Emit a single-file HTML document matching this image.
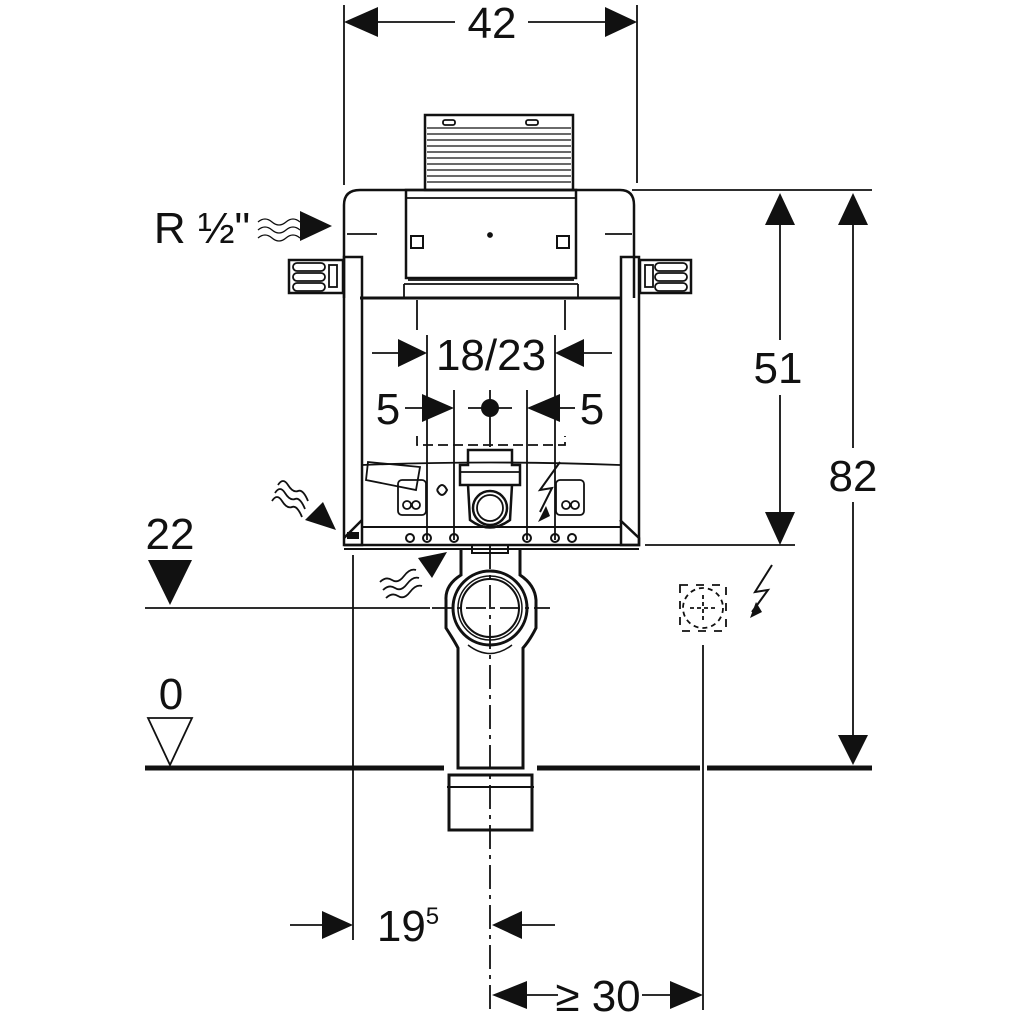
<!DOCTYPE html>
<html><head><meta charset="utf-8"><style>
html,body{margin:0;padding:0;background:#fff;}
svg{display:block;}
text{font-family:"Liberation Sans",sans-serif;fill:#111;font-weight:300;}
</style></head><body>
<svg width="1024" height="1024" viewBox="0 0 1024 1024" xmlns="http://www.w3.org/2000/svg">
<g stroke="#111" fill="none" stroke-width="1.8">
<line x1="344" y1="5" x2="344" y2="185"/>
<line x1="637" y1="5" x2="637" y2="183"/>
<line x1="378" y1="22" x2="455" y2="22"/>
<line x1="528" y1="22" x2="605" y2="22"/>
<path d="M425 115 L573 115 L573 190 L425 190 Z" stroke-width="2.5"/>
<g stroke-width="1.2">
<line x1="427" y1="128" x2="571" y2="128"/><line x1="427" y1="134" x2="571" y2="134"/><line x1="427" y1="140" x2="571" y2="140"/>
<line x1="427" y1="146" x2="571" y2="146"/><line x1="427" y1="152" x2="571" y2="152"/><line x1="427" y1="158" x2="571" y2="158"/>
<line x1="427" y1="164" x2="571" y2="164"/><line x1="427" y1="170" x2="571" y2="170"/><line x1="427" y1="176" x2="571" y2="176"/>
<line x1="427" y1="182" x2="571" y2="182"/>
</g>
<rect x="443" y="120" width="12" height="5" rx="2"/><rect x="526" y="120" width="12" height="5" rx="2"/>
<path d="M344 298 L344 205 Q344 190 360 190 L620 190 Q634 190 634 205 L634 298" stroke-width="2.5"/>
<rect x="406" y="190" width="170" height="88" stroke-width="2.5"/>
<line x1="406" y1="198" x2="576" y2="198"/>
<line x1="408" y1="280" x2="574" y2="280"/>
<line x1="404" y1="284" x2="578" y2="284"/>
<line x1="404" y1="284" x2="404" y2="298"/><line x1="578" y1="284" x2="578" y2="298"/>
<rect x="411" y="236" width="12" height="12" stroke-width="2"/>
<rect x="557" y="236" width="12" height="12" stroke-width="2"/>
<circle cx="490" cy="235" r="2" fill="#111"/>
<line x1="347" y1="234" x2="377" y2="234"/><line x1="605" y1="234" x2="632" y2="234"/>
<line x1="360" y1="298" x2="620" y2="298" stroke-width="3"/>
<rect x="344" y="257" width="18" height="288" stroke-width="2.5"/>
<rect x="621" y="257" width="18" height="288" stroke-width="2.5"/>
<path d="M344 545 L639 545 L639 538 L620 520 M362 520 L344 538" stroke-width="2.5"/>
<line x1="362" y1="527" x2="620" y2="527" stroke-width="2"/>
<line x1="344" y1="549" x2="639" y2="549" stroke-width="2"/>
<rect x="289" y="260" width="54" height="33" stroke-width="2.5"/>
<rect x="293" y="263" width="32" height="8" rx="4"/><rect x="293" y="273" width="32" height="8" rx="4"/><rect x="293" y="283" width="32" height="8" rx="4"/>
<rect x="329" y="265" width="8" height="22"/>
<rect x="640" y="260" width="51" height="33" stroke-width="2.5"/>
<rect x="655" y="263" width="32" height="8" rx="4"/><rect x="655" y="273" width="32" height="8" rx="4"/><rect x="655" y="283" width="32" height="8" rx="4"/>
<rect x="645" y="265" width="8" height="22"/>
<line x1="417" y1="300" x2="417" y2="330"/><line x1="565" y1="300" x2="565" y2="330"/>
<line x1="372" y1="353" x2="398" y2="353"/><line x1="584" y1="353" x2="612" y2="353"/>
<line x1="427" y1="335" x2="427" y2="540"/><line x1="555" y1="335" x2="555" y2="540"/>
<line x1="454" y1="390" x2="454" y2="540"/><line x1="527" y1="390" x2="527" y2="540"/>
<line x1="405" y1="408" x2="422" y2="408"/><line x1="560" y1="408" x2="575" y2="408"/>
<line x1="468" y1="408" x2="512" y2="408"/><line x1="490" y1="390" x2="490" y2="447"/>
<path d="M417 436 L417 445 L565 445 L565 436" stroke-dasharray="10 5"/>
<path d="M362 465 Q490 460 620 465"/>
<path d="M368 462 L420 467 L416 490 L366 480 Z"/>
<rect x="398" y="480" width="28" height="35" rx="4"/><rect x="556" y="480" width="28" height="35" rx="4"/>
<circle cx="407" cy="505" r="4"/><circle cx="416" cy="505" r="4"/><circle cx="566" cy="505" r="4"/><circle cx="575" cy="505" r="4"/>
<g stroke-width="2"><circle cx="410" cy="538" r="4"/><circle cx="427" cy="538" r="4"/><circle cx="454" cy="538" r="4"/><circle cx="527" cy="538" r="4"/><circle cx="555" cy="538" r="4"/><circle cx="572" cy="538" r="4"/></g>
<path d="M460 485 L460 465 L468 465 L468 450 L512 450 L512 465 L520 465 L520 485 Z" stroke-width="2.5"/>
<line x1="460" y1="472" x2="520" y2="472"/>
<path d="M468 485 L470 520 Q490 535 510 520 L512 485" stroke-width="2.5"/>
<circle cx="490" cy="508" r="17" stroke-width="2.5"/><circle cx="490" cy="508" r="13"/>
<path d="M437 490 q5 -10 10 0 q-5 10 -10 0" stroke-width="2"/>
<path d="M461 548 L461 575 Q445 585 446 600 L446 628 Q455 642 458 648 L458 768 L523 768 L523 648 Q530 640 536 628 L536 600 Q535 585 520 575 L520 548" stroke-width="3"/>
<rect x="472" y="545" width="36" height="8" stroke-width="2"/>
<circle cx="490" cy="608" r="37" stroke-width="3"/>
<circle cx="490" cy="608" r="32" stroke-width="1.5"/>
<circle cx="490" cy="608" r="29" stroke-width="2"/>
<path d="M468 645 Q490 662 512 645" stroke-width="1.5"/>
<path d="M449 775 L532 775 L532 830 L449 830 Z" stroke-width="3"/>
<line x1="447" y1="787" x2="534" y2="787" stroke-width="2"/>
<line x1="490" y1="545" x2="490" y2="1010" stroke-dasharray="24 6 4 6"/>
<line x1="145" y1="608" x2="430" y2="608"/>
<line x1="432" y1="608" x2="550" y2="608" stroke-dasharray="20 5 4 5"/>
<path d="M145 768 L444 768 M537 768 L700 768 M707 768 L872 768" stroke-width="5"/>
<path d="M148 718 L192 718 L170 765 Z"/>
<line x1="353" y1="555" x2="353" y2="940"/>
<line x1="290" y1="925" x2="322" y2="925"/><line x1="522" y1="925" x2="555" y2="925"/>
<line x1="527" y1="995" x2="558" y2="995"/><line x1="642" y1="995" x2="670" y2="995"/>
<line x1="703" y1="645" x2="703" y2="1010"/>
<circle cx="703" cy="608" r="20" stroke-dasharray="5 4"/>
<rect x="680" y="585" width="46" height="46" stroke-dasharray="8 8"/>
<line x1="690" y1="608" x2="716" y2="608" stroke-dasharray="4 3"/><line x1="703" y1="595" x2="703" y2="621" stroke-dasharray="4 3"/>
<line x1="632" y1="190" x2="872" y2="190"/>
<line x1="645" y1="545" x2="795" y2="545"/>
<line x1="780" y1="225" x2="780" y2="340"/><line x1="780" y1="395" x2="780" y2="512"/>
<line x1="853" y1="225" x2="853" y2="448"/><line x1="853" y1="502" x2="853" y2="735"/>
<path d="M258 222 q7 -6 14 0 t14 0 t14 0 M258 230 q7 -6 14 0 t14 0 t14 0 M258 238 q7 -6 14 0 t14 0 t14 0" stroke-width="1.3"/>
<path d="M278 485 q5 -8 10 0 t10 6 t10 10 M275 493 q5 -8 10 0 t10 6 t10 10 M272 501 q5 -8 10 0 t10 6 t10 10"/>
<path d="M383 590 q6 -6 12 -2 t12 -4 t12 -6 M380 582 q6 -6 12 -2 t12 -4 t12 -6 M386 598 q6 -6 12 -2 t12 -4 t12 -6"/>
<path d="M560 462 L540 490 L552 488 L540 512" stroke-width="2"/>
<path d="M772 565 L755 592 L768 590 L752 612" stroke-width="2"/>
</g>
<g fill="#111">
<path d="M344 22 L378 7 L378 37 Z"/>
<path d="M637 22 L605 7 L605 37 Z"/>
<path d="M427 353 L398 339 L398 367 Z"/>
<path d="M555 353 L584 339 L584 367 Z"/>
<path d="M454 408 L422 394 L422 422 Z"/>
<path d="M527 408 L560 394 L560 422 Z"/>
<circle cx="490" cy="408" r="9"/>
<path d="M148 560 L192 560 L170 605 Z"/>
<path d="M332 226 L300 211 L300 241 Z"/>
<path d="M336 530 L323 502 L305 520 Z"/>
<path d="M447 552 L418 558 L432 578 Z"/>
<path d="M353 925 L322 911 L322 939 Z"/>
<path d="M492 925 L522 911 L522 939 Z"/>
<path d="M492 995 L527 981 L527 1009 Z"/>
<path d="M703 995 L670 981 L670 1009 Z"/>
<path d="M780 193 L765 225 L795 225 Z"/>
<path d="M780 545 L765 512 L795 512 Z"/>
<path d="M853 193 L838 225 L868 225 Z"/>
<path d="M853 765 L838 735 L868 735 Z"/>
<path d="M538 522 L546 506 L550 516 Z"/>
<path d="M750 618 L756 602 L762 612 Z"/>
<rect x="347" y="532" width="12" height="7"/>
</g>
<g font-size="44" text-anchor="middle">
<text x="492" y="38">42</text>
<text x="491" y="370">18/23</text>
<text x="388" y="424">5</text>
<text x="592" y="424">5</text>
<text x="170" y="549">22</text>
<text x="171" y="709">0</text>
<text x="778" y="383">51</text>
<text x="853" y="491">82</text>
<text x="408" y="941">19<tspan font-size="24" dy="-17">5</tspan></text>
<text x="598" y="1011">≥ 30</text>
<text x="202" y="243">R ½"</text>
</g>
</svg>
</body></html>
